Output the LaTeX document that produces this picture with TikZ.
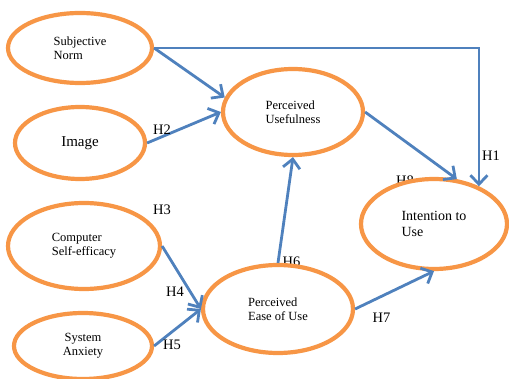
\documentclass[tikz,border=0pt]{standalone}
\usepackage{fontspec}
\setmainfont{Liberation Serif}
\usetikzlibrary{shapes.geometric}
\usetikzlibrary{arrows.meta}

\definecolor{tamorange}{RGB}{247,150,70}
\definecolor{tamblue}{RGB}{79,129,189}

\begin{document}
\begin{tikzpicture}[x=1pt, y=-1pt,
	construct/.style = {ellipse, draw=tamorange, fill=white, line width=4.2pt, inner sep=0pt, align=left, font=\fontsize{12.5}{14}\selectfont},
	link/.style = {draw=tamblue, line width=2.8pt, -{Straight Barb[length=9pt,width=17pt]}},
	hyp/.style = {inner sep=0pt, font=\fontsize{14.5}{14.5}\selectfont}]

	\useasboundingbox (0,0) rectangle (509,379);

	% labels first, the ellipses cover H6 and H8 a bit
	\node [hyp] (h6) at (291.5,262) {H6};
	\node [hyp] (h8) at (405,181) {H8};

	\node [construct, minimum width=144pt, minimum height=70pt] (sn) at (80,48) {Subjective\\Norm};
	\node [construct, minimum width=130pt, minimum height=72pt, font=\fontsize{15}{17}\selectfont] (img) at (80,143) {Image};
	\node [construct, minimum width=140pt, minimum height=86pt] (pu) at (293,112) {Perceived\\Usefulness};
	\node [construct, minimum width=152pt, minimum height=86pt] (cse) at (84,246) {Computer\\Self-efficacy};
	\node [construct, minimum width=138pt, minimum height=66pt, align=center] (sa) at (83,346) {System\\Anxiety};
	\node [construct, minimum width=150pt, minimum height=88pt] (peu) at (278,309) {Perceived\\Ease of Use};
	\node [construct, minimum width=146pt, minimum height=90pt, font=\fontsize{14}{15.5}\selectfont] (itu) at (434,224) {Intention to\\Use};

	\draw [link] (sn.east) -- (pu.168);
	\draw [link] (sn.east) -| (itu.40);
	\draw [link] (img.east) -- (pu.west);
	\draw [link] (pu.east) -- (itu.63);
	\draw [link] (cse.east) -- (peu.west);
	\draw [link] (sa.east) -- (peu.west);
	\draw [link] (peu.north) -- (pu.south);
	\draw [link] (peu.east) -- (itu.south);

	\node [hyp] (h1) at (491,156) {H1};
	\node [hyp] (h2) at (162,129.5) {H2};
	\node [hyp] (h3) at (162,210) {H3};
	\node [hyp] (h4) at (175,292) {H4};
	\node [hyp] (h5) at (172,345) {H5};
	\node [hyp] (h7) at (381.5,318) {H7};

\end{tikzpicture}
\end{document}
